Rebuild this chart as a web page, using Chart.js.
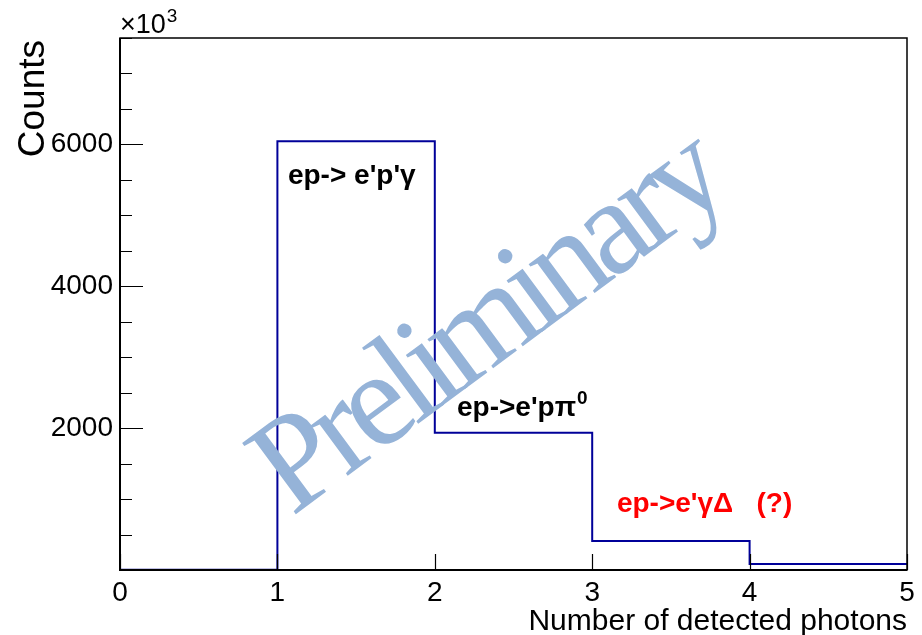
<!DOCTYPE html>
<html>
<head>
<meta charset="utf-8">
<title>Number of detected photons</title>
<script src="https://cdn.jsdelivr.net/npm/chart.js@4.4.1/dist/chart.umd.min.js"></script>
<style>
    html, body { margin: 0; padding: 0; background: #fff; }
</style>
</head>
<body>
<canvas id="photonChart" width="922" height="635"></canvas>
<script>
// Histogram bins (lower edges + last upper edge) and contents, in units of 10^3 counts
const binEdges = [0, 1, 2, 3, 4, 5];
const binCounts = [5, 6045, 1935, 408, 84];

// Axis ticks
const xTickValues = [0, 1, 2, 3, 4, 5];
const yLabelTicks = [2000, 4000, 6000];
const yMajorTicks = [0, 2000, 4000, 6000];
const yMinorStep = 500;

// Text on the plot
const processLabels = ["ep-> e'p'\u03B3", "ep->e'p\u03C0", "ep->e'\u03B3\u0394   (?)"];
const watermarkText = 'Preliminary';
const xTitle = 'Number of detected photons';
const yTitle = 'Counts';

const sansFont = '"Liberation Sans", Arial, Helvetica, sans-serif';
const serifFont = '"Liberation Serif", "Times New Roman", serif';

// histogram drawn as a stepped line through the bin edges
const histPoints = binCounts.map((c, i) => ({ x: binEdges[i], y: c }));
histPoints.push({ x: binEdges[binEdges.length - 1], y: binCounts[binCounts.length - 1] });

// ROOT style frame, inward ticks, labels and watermark
const rootStylePlugin = {
    id: 'rootStyle',
    afterDatasetsDraw(chart) {
        const ctx = chart.ctx;
        const area = chart.chartArea;
        const xs = chart.scales.x;
        const ys = chart.scales.y;

        ctx.save();
        // frame
        ctx.strokeStyle = '#000';
        ctx.lineWidth = 1.5;
        ctx.strokeRect(area.left, area.top, area.right - area.left, area.bottom - area.top);
        ctx.lineWidth = 2;
        ctx.beginPath();
        ctx.moveTo(area.left, area.top);
        ctx.lineTo(area.left, area.bottom);
        ctx.lineTo(area.right, area.bottom);
        ctx.stroke();

        // y ticks, major + minor
        ctx.lineWidth = 1.2;
        ctx.beginPath();
        for (let v = ys.min; v <= ys.max; v += yMinorStep) {
            const py = Math.round(ys.getPixelForValue(v)) + 0.5;
            const len = yMajorTicks.includes(v) ? 23 : 12;
            ctx.moveTo(area.left, py);
            ctx.lineTo(area.left + len, py);
        }
        // x ticks
        xTickValues.forEach(v => {
            const px = Math.round(xs.getPixelForValue(v)) + 0.5;
            ctx.moveTo(px, area.bottom);
            ctx.lineTo(px, area.bottom - 16);
        });
        ctx.stroke();

        // axis titles
        ctx.fillStyle = '#000';
        ctx.font = '30px ' + sansFont;
        ctx.textAlign = 'right';
        ctx.textBaseline = 'alphabetic';
        ctx.fillText(xTitle, area.right, 630);

        ctx.save();
        ctx.translate(44, area.top + 2);
        ctx.rotate(-Math.PI / 2);
        ctx.font = '37px ' + sansFont;
        ctx.textAlign = 'right';
        ctx.fillText(yTitle, 0, 0);
        ctx.restore();

        // x10^3 multiplier
        ctx.textAlign = 'left';
        ctx.font = '27px ' + sansFont;
        ctx.fillText('\u00D710', area.left, 33);
        const w = ctx.measureText('\u00D710').width;
        ctx.font = '19px ' + sansFont;
        ctx.fillText('3', area.left + w + 1, 22);

        // process labels
        ctx.font = 'bold 28px ' + sansFont;
        ctx.fillText(processLabels[0], xs.getPixelForValue(1.067), ys.getPixelForValue(5445));
        const x2 = xs.getPixelForValue(2.141);
        const y2 = ys.getPixelForValue(2176);
        ctx.fillText(processLabels[1], x2, y2);
        const w2 = ctx.measureText(processLabels[1]).width;
        ctx.font = 'bold 19px ' + sansFont;
        ctx.fillText('0', x2 + w2 + 1, y2 - 12);
        ctx.font = 'bold 28px ' + sansFont;
        ctx.fillStyle = '#ff0000';
        ctx.fillText(processLabels[2], xs.getPixelForValue(3.157), ys.getPixelForValue(816));

        // watermark
        ctx.save();
        ctx.translate(292, 517);
        ctx.rotate(-36.5 * Math.PI / 180);
        ctx.font = '136px ' + serifFont;
        ctx.letterSpacing = '-9px';
        ctx.fillStyle = '#95b3d8';
        ctx.textAlign = 'left';
        ctx.fillText(watermarkText, 0, 0);
        ctx.restore();

        ctx.restore();
    }
};

const ctx = document.getElementById('photonChart').getContext('2d');
const photonChart = new Chart(ctx, {
    type: 'line',
    data: {
        datasets: [{
            label: 'photons',
            data: histPoints,
            stepped: 'before',
            borderColor: '#000099',
            borderWidth: 2,
            pointRadius: 0,
            fill: false
        }]
    },
    options: {
        responsive: false,
        animation: false,
        layout: { padding: { left: 0, top: 38, right: 15, bottom: 0 } },
        plugins: {
            legend: { display: false },
            tooltip: { enabled: false }
        },
        scales: {
            x: {
                type: 'linear',
                min: 0,
                max: 5,
                grid: { display: false, drawTicks: false },
                border: { display: false },
                ticks: {
                    stepSize: 1,
                    padding: 6,
                    color: '#000',
                    font: { family: sansFont, size: 28 },
                    maxRotation: 0
                },
                afterFit(scale) { scale.height = 65; }
            },
            y: {
                type: 'linear',
                min: 0,
                max: 7500,
                grid: { display: false, drawTicks: false },
                border: { display: false },
                ticks: {
                    stepSize: yMinorStep,
                    padding: 7,
                    color: '#000',
                    font: { family: sansFont, size: 28 },
                    callback: v => yLabelTicks.includes(v) ? String(v) : ''
                },
                afterFit(scale) { scale.width = 120; }
            }
        }
    },
    plugins: [rootStylePlugin]
});
</script>
</body>
</html>
